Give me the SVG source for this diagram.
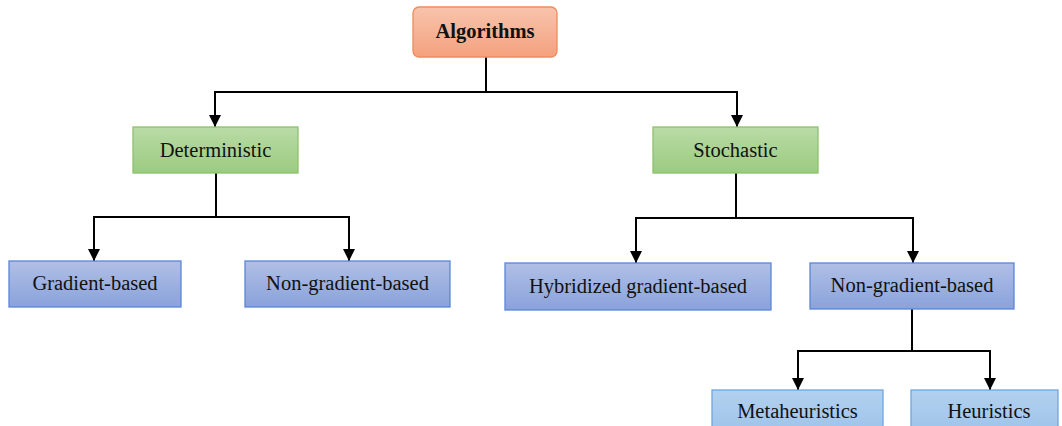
<svg xmlns="http://www.w3.org/2000/svg" width="1062" height="426" viewBox="0 0 1062 426">
<defs>
<linearGradient id="gOr" x1="0" y1="0" x2="0" y2="1"><stop offset="0" stop-color="#f8c4ac"/><stop offset="1" stop-color="#f4a17e"/></linearGradient>
<linearGradient id="gGr" x1="0" y1="0" x2="0" y2="1"><stop offset="0" stop-color="#b9dba6"/><stop offset="1" stop-color="#9ccb80"/></linearGradient>
<linearGradient id="gBl" x1="0" y1="0" x2="0" y2="1"><stop offset="0" stop-color="#b0bfe6"/><stop offset="1" stop-color="#8aa2db"/></linearGradient>
<linearGradient id="gLb" x1="0" y1="0" x2="0" y2="1"><stop offset="0" stop-color="#b3d1ef"/><stop offset="1" stop-color="#9cc2ea"/></linearGradient>
<marker id="arr" viewBox="0 0 10 10" refX="10" refY="5" markerWidth="6" markerHeight="6" markerUnits="strokeWidth" orient="auto">
<path d="M0,0 L10,5 L0,10 z" fill="#000"/>
</marker>
</defs>
<style>
.t{font-family:"Liberation Serif","Times New Roman",serif;font-size:20.5px;fill:#111;text-anchor:middle;dominant-baseline:central}
.b{font-weight:bold}
.or{fill:url(#gOr);stroke:#ee8a5e;stroke-width:1.3}
.gr{fill:url(#gGr);stroke:#8cc26c;stroke-width:1.3}
.bl{fill:url(#gBl);stroke:#5b86d6;stroke-width:1.3}
.lb{fill:url(#gLb);stroke:#6ea6e0;stroke-width:1.3}
.c{fill:none;stroke:#000;stroke-width:2}
</style>
<g id="connectors">
<path class="c" d="M486,57 V92"/>
<path class="c" d="M215,92 H737"/>
<path class="c" d="M215,91 V127" marker-end="url(#arr)"/>
<path class="c" d="M737,91 V127" marker-end="url(#arr)"/>
<path class="c" d="M216,173 V217"/>
<path class="c" d="M94,217 H349"/>
<path class="c" d="M94,216 V261" marker-end="url(#arr)"/>
<path class="c" d="M349,216 V261" marker-end="url(#arr)"/>
<path class="c" d="M736,173 V218"/>
<path class="c" d="M636,218 H913"/>
<path class="c" d="M636,217 V263" marker-end="url(#arr)"/>
<path class="c" d="M913,217 V263" marker-end="url(#arr)"/>
<path class="c" d="M912,309 V351"/>
<path class="c" d="M798,351 H990"/>
<path class="c" d="M798,350 V390" marker-end="url(#arr)"/>
<path class="c" d="M990,350 V390" marker-end="url(#arr)"/>
</g>
<g id="algorithms"><rect class="or" x="413" y="7" width="144" height="50" rx="6"/><text class="t b" x="485" y="31">Algorithms</text></g>
<g id="deterministic"><rect class="gr" x="133" y="127" width="165" height="46"/><text class="t" x="215.5" y="150">Deterministic</text></g>
<g id="stochastic"><rect class="gr" x="653" y="127" width="165" height="46"/><text class="t" x="735.5" y="150">Stochastic</text></g>
<g id="gradient-based"><rect class="bl" x="9" y="261" width="172" height="46"/><text class="t" x="95" y="283">Gradient-based</text></g>
<g id="non-gradient-left"><rect class="bl" x="245" y="261" width="205" height="46"/><text class="t" x="347.5" y="283">Non-gradient-based</text></g>
<g id="hybridized"><rect class="bl" x="505" y="263" width="266" height="47"/><text class="t" x="638" y="286">Hybridized gradient-based</text></g>
<g id="non-gradient-right"><rect class="bl" x="810" y="263" width="204" height="46"/><text class="t" x="912" y="285">Non-gradient-based</text></g>
<g id="metaheuristics"><rect class="lb" x="712" y="390" width="171" height="46"/><text class="t" x="797.5" y="411">Metaheuristics</text></g>
<g id="heuristics"><rect class="lb" x="911" y="390" width="147" height="46"/><text class="t" x="989" y="411">Heuristics</text></g>
</svg>
